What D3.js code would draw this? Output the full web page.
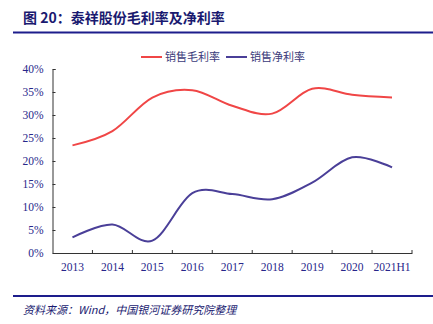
<!DOCTYPE html>
<html>
<head>
<meta charset="utf-8">
<script src="https://cdn.jsdelivr.net/npm/d3@7"></script>
<style>
  body { margin: 0; background: #fff; }
  svg { display: block; }
</style>
</head>
<body>
<div id="chart"></div>
<script>
// data
var years = ["2013", "2014", "2015", "2016", "2017", "2018", "2019", "2020", "2021H1"];
var grossMargin = [23.4, 26.5, 33.8, 35.4, 32.0, 30.3, 35.7, 34.4, 33.8];
var netMargin = [3.4, 6.2, 2.7, 13.0, 12.8, 11.7, 15.3, 20.8, 18.6];
var yTicks = [0, 5, 10, 15, 20, 25, 30, 35, 40];

var width = 433, height = 324;
var navy = "#27268a";

var svg = d3.select("#chart").append("svg")
  .attr("width", width)
  .attr("height", height);

// title
svg.append("text")
  .attr("x", 23)
  .attr("y", 23)
  .style("font-family", "'Noto Sans CJK SC', sans-serif")
  .style("font-weight", "bold")
  .style("font-size", "14px")
  .style("fill", "#1a1a70")
  .text("图 20：泰祥股份毛利率及净利率");

svg.append("rect")
  .attr("x", 13).attr("y", 31.5)
  .attr("width", 420).attr("height", 2)
  .style("fill", "#1d1d8c");

// plot area
var margin = {left: 52.5, right: 21, top: 69, bottom: 71};
var x = d3.scaleBand()
  .domain(years)
  .range([margin.left, width - margin.right]);
var y = d3.scaleLinear()
  .domain([0, 40])
  .range([height - margin.bottom, margin.top]);

var yAxis = d3.axisLeft(y)
  .tickValues(yTicks)
  .tickSize(-3)
  .tickPadding(9)
  .tickFormat(function(d) { return d + "%"; });
var gy = svg.append("g")
  .attr("transform", "translate(" + margin.left + ",0)")
  .call(yAxis);

var xAxis = d3.axisBottom(x)
  .tickSize(0)
  .tickPadding(10);
var gx = svg.append("g")
  .attr("transform", "translate(0," + y(0) + ")")
  .call(xAxis);

// tick marks between categories, pointing up
gx.selectAll(".sep").data(years)
  .enter().append("line")
  .attr("class", "sep")
  .attr("x1", function(d) { return x(d) + x.bandwidth(); })
  .attr("x2", function(d) { return x(d) + x.bandwidth(); })
  .attr("y1", 0).attr("y2", -3)
  .style("stroke", "#333");

[gx, gy].forEach(function(g) {
  g.select(".domain").style("stroke", "#333");
  g.selectAll(".tick line").style("stroke", "#333");
  g.selectAll("text")
    .style("font-family", "'Liberation Serif', serif")
    .style("font-size", "11.5px")
    .style("fill", navy);
});

// lines
var line = d3.line()
  .x(function(d, i) { return x(years[i]) + x.bandwidth() / 2; })
  .y(function(d) { return y(d); })
  .curve(d3.curveCardinal.tension(0));

svg.append("path")
  .attr("d", line(grossMargin))
  .style("fill", "none")
  .style("stroke", "#f04646")
  .style("stroke-width", 2);

svg.append("path")
  .attr("d", line(netMargin))
  .style("fill", "none")
  .style("stroke", "#4a3f98")
  .style("stroke-width", 2);

// legend
var legend = [
  {name: "销售毛利率", color: "#f04646", x: 141},
  {name: "销售净利率", color: "#4a3f98", x: 226}
];
var lg = svg.selectAll(".legend").data(legend)
  .enter().append("g")
  .attr("transform", function(d) { return "translate(" + d.x + ",57)"; });
lg.append("line")
  .attr("x1", 0).attr("x2", 21)
  .style("stroke", function(d) { return d.color; })
  .style("stroke-width", 2);
lg.append("text")
  .attr("x", 24).attr("y", 4)
  .style("font-family", "'Noto Sans CJK SC', sans-serif")
  .style("font-size", "11px")
  .style("fill", "#3a3a7a")
  .text(function(d) { return d.name; });

// footer
svg.append("rect")
  .attr("x", 13).attr("y", 295)
  .attr("width", 420).attr("height", 2)
  .style("fill", "#1d1d8c");

svg.append("text")
  .attr("x", 23)
  .attr("y", 314)
  .style("font-family", "'Noto Sans CJK SC', sans-serif")
  .style("font-style", "italic")
  .style("font-size", "11px")
  .style("fill", "#1a1a70")
  .text("资料来源：Wind，中国银河证券研究院整理");
</script>
</body>
</html>
